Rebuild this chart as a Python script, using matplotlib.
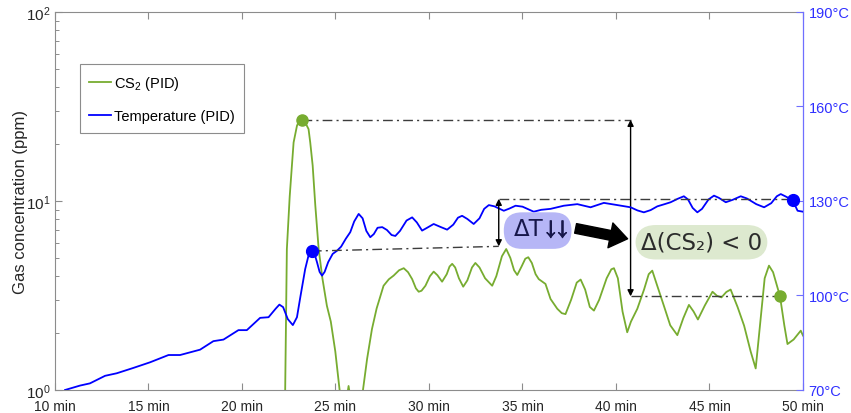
import matplotlib
matplotlib.use('Agg')
import matplotlib.pyplot as plt
import matplotlib.patheffects as pe
from matplotlib.patches import FancyBboxPatch
from matplotlib.ticker import FixedLocator, LogLocator, NullFormatter, FixedFormatter

plt.rcParams['font.family'] = ['Liberation Sans', 'DejaVu Sans']
plt.rcParams['mathtext.fontset'] = 'custom'
plt.rcParams['mathtext.rm'] = 'Liberation Sans'
plt.rcParams['mathtext.it'] = 'Liberation Sans:italic'
plt.rcParams['mathtext.bf'] = 'Liberation Sans:bold'

# ---------------- data ----------------
x_ticks = [10, 15, 20, 25, 30, 35, 40, 45, 50]
x_tick_labels = ['10 min', '15 min', '20 min', '25 min', '30 min',
                 '35 min', '40 min', '45 min', '50 min']
temp_ticks = [70, 100, 130, 160, 190]
temp_tick_labels = ['70°C', '100°C', '130°C', '160°C', '190°C']
ppm_ticks = [1, 10, 100]
ppm_tick_labels = ['$10^{0}$', '$10^{1}$', '$10^{2}$']

temp_time = [10.54, 11.34, 11.87, 12.68, 13.3, 14.19, 15.09, 16.07, 16.69,
             17.76, 18.47, 19.01, 19.81, 20.26, 20.97, 21.42, 21.8, 22.0,
             22.2, 22.45, 22.72, 22.94, 23.12, 23.38, 23.55, 23.74, 23.9,
             24.01, 24.15, 24.28, 24.42, 24.61, 24.85, 25.08, 25.3, 25.55,
             25.79, 26.0, 26.24, 26.45, 26.65, 26.86, 27.05, 27.25, 27.5,
             27.75, 28.0, 28.2, 28.45, 28.8, 29.1, 29.35, 29.63, 29.9,
             30.25, 30.6, 30.97, 31.3, 31.55, 31.77, 32.05, 32.39, 32.7,
             32.95, 33.2, 33.5, 34.0, 34.3, 34.63, 35.0, 35.6, 36.0,
             36.5, 37.21, 37.93, 38.64, 39.35, 40.07, 40.78, 41.15, 41.49,
             41.85, 42.21, 42.6, 42.92, 43.3, 43.63, 43.85, 44.1, 44.35,
             44.6, 44.95, 45.24, 45.5, 45.87, 46.25, 46.67, 47.0, 47.5,
             47.92, 48.3, 48.6, 48.81, 49.05, 49.44, 49.71, 50.0]
temp_c = [70.0, 71.4, 72.1, 74.5, 75.3, 77.0, 78.8, 81.1, 81.1,
          82.8, 85.5, 86.0, 89.0, 89.0, 92.9, 93.1, 95.8, 97.1,
          96.3, 92.5, 90.6, 93.1, 99.5, 108.4, 112.5, 114.1, 112.8,
          110.6, 107.5, 106.3, 107.5, 110.6, 113.2, 114.2, 115.5, 118.0,
          120.1, 123.5, 125.9, 124.5, 120.5, 118.5, 119.5, 121.5, 121.7,
          120.8, 119.2, 118.9, 120.5, 123.8, 124.8, 123.2, 120.6, 121.5,
          122.7, 121.8, 120.9, 122.5, 124.7, 125.3, 124.3, 122.7, 124.5,
          127.5, 128.7, 128.3, 126.9, 127.6, 128.5, 128.2, 126.6, 127.2,
          127.5, 128.5, 129.0, 128.0, 129.4, 128.7, 128.0, 127.0, 126.4,
          127.1, 128.3, 129.0, 129.6, 130.7, 131.5, 130.5, 127.8, 126.4,
          127.5, 130.5, 131.7, 131.0, 129.6, 130.4, 131.5, 130.8, 129.0,
          128.0, 129.3, 131.5, 132.2, 131.5, 130.3, 126.9, 126.6]

cs2_time = [22.28, 22.31, 22.40, 22.55, 22.67, 22.76, 22.94, 23.05, 23.21,
            23.36, 23.56, 23.65, 23.78, 23.92, 24.10, 24.30, 24.54, 24.75,
            24.99, 25.22, 25.40, 25.60, 25.70, 25.80, 25.95, 26.47, 26.69,
            26.95, 27.20, 27.57, 27.85, 28.11, 28.40, 28.65, 28.88, 29.10,
            29.30, 29.45, 29.60, 29.81, 30.05, 30.25, 30.45, 30.70, 30.95,
            31.10, 31.24, 31.40, 31.60, 31.83, 32.05, 32.30, 32.48, 32.70,
            33.00, 33.38, 33.60, 33.90, 34.13, 34.35, 34.55, 34.72, 34.95,
            35.15, 35.31, 35.50, 35.70, 35.87, 36.23, 36.50, 36.86, 37.10,
            37.30, 37.60, 37.90, 38.11, 38.35, 38.60, 38.82, 39.10, 39.50,
            39.75, 39.89, 40.10, 40.35, 40.60, 40.80, 41.14, 41.50, 41.75,
            41.94, 42.15, 42.56, 42.90, 43.28, 43.60, 43.90, 44.15, 44.38,
            44.75, 45.16, 45.40, 45.64, 45.90, 46.13, 46.50, 46.85, 47.20,
            47.47, 47.70, 47.95, 48.18, 48.40, 48.77, 49.00, 49.17, 49.50,
            49.88, 50.0]
cs2_ppm = [0.5, 1.0, 5.57, 10.5, 15.4, 20.4, 25.0, 26.5, 26.9,
           26.3, 24.0, 20.4, 15.4, 9.5, 5.57, 3.9, 2.79, 2.3,
           1.6, 1.0, 0.6, 0.9, 1.05, 0.9, 0.6, 1.0, 1.46,
           2.10, 2.7, 3.56, 3.85, 4.03, 4.3, 4.41, 4.2, 3.86,
           3.45, 3.31, 3.35, 3.56, 4.0, 4.23, 4.05, 3.74, 4.1,
           4.5, 4.65, 4.45, 3.9, 3.52, 3.8, 4.45, 4.70, 4.45,
           3.9, 3.56, 4.0, 5.1, 5.57, 5.0, 4.3, 4.06, 4.5,
           4.95, 5.04, 4.7, 4.1, 3.86, 3.64, 3.03, 2.69, 2.55,
           2.52, 3.0, 3.7, 3.84, 3.4, 2.75, 2.63, 3.0, 3.9,
           4.35, 4.41, 3.9, 2.6, 2.02, 2.3, 2.69, 3.4, 4.1,
           4.28, 3.7, 2.79, 2.2, 1.95, 2.4, 2.82, 2.6, 2.36,
           2.8, 3.31, 3.15, 3.09, 3.3, 3.40, 2.75, 2.19, 1.6,
           1.30, 2.2, 3.9, 4.55, 4.2, 3.13, 2.2, 1.75, 1.85,
           2.06, 1.94]

cs2_marker_time = [23.21, 48.77]
cs2_marker_ppm = [26.9, 3.13]
temp_marker_time = [23.74, 49.44]
temp_marker_c = [114.1, 130.3]

# ---------------- styling ----------------
GREEN = '#77ac30'
BLUE = '#0000ff'
GRAY = '#8c8c8c'
DASH = (0, (7, 3, 1.5, 3))
REF = '#3c3c3c'

fig = plt.figure(figsize=(8.51, 4.14), dpi=100)
ax = fig.add_axes([0.0646, 0.0556, 0.879, 0.913])
ax.set_yscale('log')
ax.set_xlim(10, 50)
ax.set_ylim(1, 100)

ax2 = ax.twinx()
ax2.set_ylim(70, 190)

l1, = ax.plot(cs2_time, cs2_ppm, color=GREEN, lw=1.3, label='CS$_2$ (PID)',
              zorder=3, solid_joinstyle='round')
l2, = ax2.plot(temp_time, temp_c, color=BLUE, lw=1.3,
               label='Temperature (PID)', zorder=3, solid_joinstyle='round')

# markers
ax.plot(cs2_marker_time, cs2_marker_ppm, 'o', color=GREEN, ms=8, zorder=5)
ax2.plot(temp_marker_time, temp_marker_c, 'o', color=BLUE, ms=8.5, zorder=5)

# CS2 reference lines and arrow
x_cs2_arrow = 40.78
ax.plot([cs2_marker_time[0], x_cs2_arrow], [cs2_marker_ppm[0]] * 2,
        ls=DASH, color=REF, lw=1, zorder=4)
ax.plot([x_cs2_arrow, cs2_marker_time[1]], [cs2_marker_ppm[1]] * 2,
        ls=DASH, color=REF, lw=1, zorder=4)
ax.annotate('', xy=(x_cs2_arrow, cs2_marker_ppm[0]),
            xytext=(x_cs2_arrow, cs2_marker_ppm[1]),
            arrowprops=dict(arrowstyle='<|-|>', color='black', lw=1,
                            mutation_scale=9, shrinkA=0, shrinkB=0),
            zorder=4)

# temperature reference lines and arrow
x_t_arrow = 33.73
t_low_end = 115.6
ax2.plot([temp_marker_time[0], x_t_arrow], [temp_marker_c[0], t_low_end],
         ls=DASH, color=REF, lw=1, zorder=4)
ax2.plot([x_t_arrow, temp_marker_time[1]], [temp_marker_c[1] + 0.4] * 2,
         ls=DASH, color=REF, lw=1, zorder=4)
ax2.annotate('', xy=(x_t_arrow, temp_marker_c[1] + 0.4),
             xytext=(x_t_arrow, t_low_end),
             arrowprops=dict(arrowstyle='<|-|>', color='black', lw=1,
                             mutation_scale=9, shrinkA=0, shrinkB=0),
             zorder=4)

# "ΔT↓↓" pill box (px per minute ≈ 18.7, px per °C ≈ 3.15)
pill = FancyBboxPatch((34.0, 114.8), 3.62, 11.6,
                      boxstyle='round,pad=0,rounding_size=0.97',
                      mutation_aspect=5.93, fc='#b6b6f6', ec='none',
                      transform=ax2.transData, zorder=6)
ax2.add_patch(pill)
ax2.text(34.52, 119.2, 'ΔT', fontsize=16.5, color='#17174a',
         ha='left', va='baseline', family=['DejaVu Sans'], zorder=7)
ax2.text(36.06, 119.3, r'$\downarrow\!\!\downarrow$', fontsize=15,
         color='#17174a', ha='left', va='baseline',
         math_fontfamily='stixsans', zorder=7,
         path_effects=[pe.withStroke(linewidth=0.7, foreground='#17174a')])

ax2.text(44.57, 116.9, 'Δ(CS₂) < 0', fontsize=16.5, color='#2b2b2b',
         ha='center', va='center', family=['DejaVu Sans'],
         bbox=dict(boxstyle='round,pad=0.25,rounding_size=0.9',
                   fc='#dde9cf', ec='none'), zorder=6)
ax2.annotate('', xy=(40.62, 118.0), xytext=(37.84, 121.3),
             arrowprops=dict(arrowstyle='simple,head_length=0.9,head_width=1.3,tail_width=0.5',
                             fc='black', ec='black', mutation_scale=14,
                             shrinkA=0, shrinkB=0), zorder=7)

# axes / ticks
ax.xaxis.set_major_locator(FixedLocator(x_ticks))
ax.xaxis.set_major_formatter(FixedFormatter(x_tick_labels))
ax.yaxis.set_major_locator(FixedLocator(ppm_ticks))
ax.yaxis.set_major_formatter(FixedFormatter(ppm_tick_labels))
ax.yaxis.set_minor_locator(LogLocator(base=10, subs=range(2, 10)))
ax.yaxis.set_minor_formatter(NullFormatter())
ax.tick_params(axis='x', direction='in', top=True, length=5, width=0.8,
               color=GRAY, labelsize=10, labelcolor='#262626', pad=6.5)
ax.tick_params(axis='y', which='major', direction='in', length=5, width=0.8,
               color=GRAY, labelsize=11, labelcolor='#262626', pad=3)
ax.tick_params(axis='y', which='minor', direction='in', length=3, width=0.7,
               color=GRAY)
ax.set_ylabel('Gas concentration (ppm)', fontsize=12, color='#262626',
              labelpad=-1)

ax2.yaxis.set_major_locator(FixedLocator(temp_ticks))
ax2.yaxis.set_major_formatter(FixedFormatter(temp_tick_labels))
ax2.tick_params(axis='y', direction='in', length=5, width=0.8,
                color='#6f6fff', labelsize=10.5, labelcolor='#2f2fff', pad=4)

for s in ['left', 'top', 'bottom']:
    ax.spines[s].set_color(GRAY)
    ax.spines[s].set_linewidth(0.8)
    ax2.spines[s].set_visible(False)
ax.spines['right'].set_visible(False)
ax2.spines['right'].set_color('#6f6fff')
ax2.spines['right'].set_linewidth(0.9)

leg = ax2.legend(handles=[l1, l2], loc='upper left',
                 bbox_to_anchor=(0.0334, 0.862), borderaxespad=0,
                 fontsize=10.5, fancybox=False, framealpha=1,
                 edgecolor='#8c8c8c', handlelength=1.5, handletextpad=0.15,
                 labelspacing=1.2, borderpad=0.65)
leg.get_frame().set_linewidth(0.8)
leg.set_zorder(8)

fig.savefig('out.png', dpi=100)
